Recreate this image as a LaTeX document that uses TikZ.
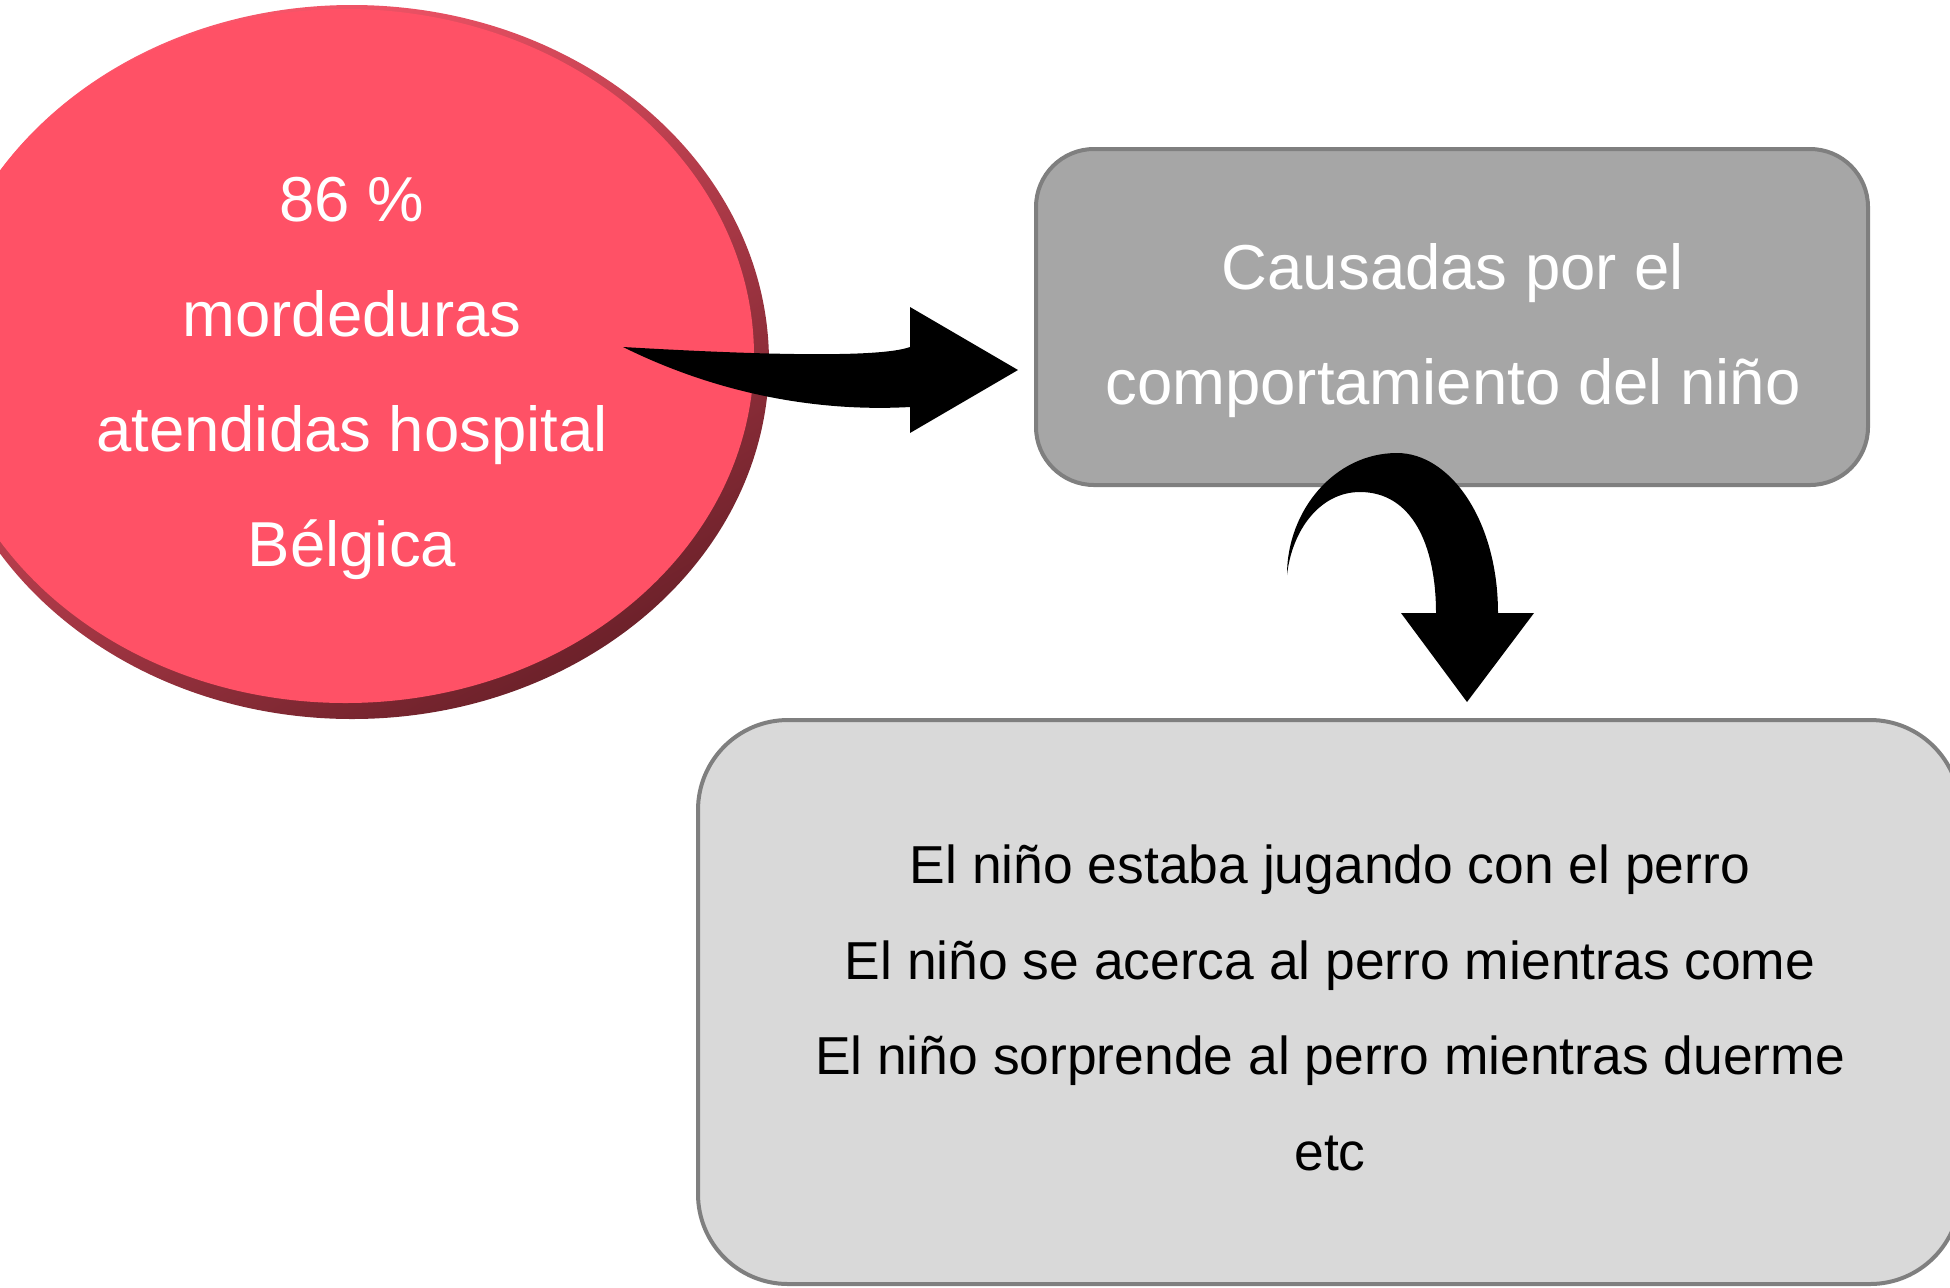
\documentclass[tikz,border=0pt]{standalone}
\usepackage{fontspec}
\setmainfont{Liberation Sans}
\usetikzlibrary{shapes.geometric}
\definecolor{redfill}{RGB}{255,81,102}
\definecolor{redlight}{RGB}{252,88,108}
\definecolor{reddark}{RGB}{108,33,42}
\definecolor{boxgray}{RGB}{166,166,166}
\definecolor{boxlight}{RGB}{217,217,217}
\definecolor{boxline}{RGB}{127,127,127}
\begin{document}
\begin{tikzpicture}[x=0.5pt,y=-0.5pt,
  bigtxt/.style={font=\fontsize{31.75}{38}\selectfont, text=white, anchor=base, inner sep=0pt},
  smalltxt/.style={font=\fontsize{26.7}{32}\selectfont, text=black, anchor=base, inner sep=0pt},
  blockarrow/.style={fill=black, draw=none},
  roundbox/.style={draw=boxline, line width=2pt, inner sep=0pt}]
\useasboundingbox (0,0) rectangle (1950,1287);
\clip (0,0) rectangle (1950,1287);
% ellipse
\node[ellipse, minimum width=417pt, minimum height=357pt, inner sep=0pt, draw=none,
      top color=redlight, bottom color=reddark, shading angle=30] (ring) at (352,362) {};
\node[ellipse, minimum width=408.5pt, minimum height=347pt, inner sep=0pt, draw=none,
      fill=redfill] (a) at (345.5,356) {};
\node[bigtxt] (a1) at (352,221) {86 \%};
\node[bigtxt] (a2) at (352,336) {mordeduras};
\node[bigtxt] (a3) at (352,451) {atendidas hospital};
\node[bigtxt] (a4) at (352,566) {Bélgica};
% gray box
\node[roundbox, fill=boxgray, rounded corners=29pt, minimum width=416pt, minimum height=168pt] (b) at (1452,317) {};
\node[bigtxt] (b1) at (1453,289) {Causadas por el};
\node[bigtxt] (b2) at (1453,404) {comportamiento del niño};
% light box
\node[roundbox, fill=boxlight, rounded corners=45pt, minimum width=631pt, minimum height=282pt] (c) at (1329,1002) {};
\node[smalltxt] (c1) at (1330,883) {El niño estaba jugando con el perro};
\node[smalltxt] (c2) at (1330,979) {El niño se acerca al perro mientras come};
\node[smalltxt] (c3) at (1330,1074) {El niño sorprende al perro mientras duerme};
\node[smalltxt] (c4) at (1330,1170) {etc};
% curved arrow right
\fill[blockarrow] (623,347) .. controls (760,355) and (880,358) .. (910,347)
  -- (910,307) -- (1018,370) -- (910,433) -- (910,407)
  .. controls (820,412) and (720,395) .. (623,347) -- cycle;
% curved arrow down
\fill[blockarrow] (1287,575) .. controls (1287,510) and (1335,453) .. (1397,453)
  .. controls (1450,453) and (1498,520) .. (1498,613)
  -- (1534,613) -- (1467,702) -- (1401,613) -- (1436,613)
  .. controls (1436,545) and (1412,492) .. (1360,492)
  .. controls (1320,492) and (1292,530) .. (1287,575) -- cycle;
\end{tikzpicture}
\end{document}
